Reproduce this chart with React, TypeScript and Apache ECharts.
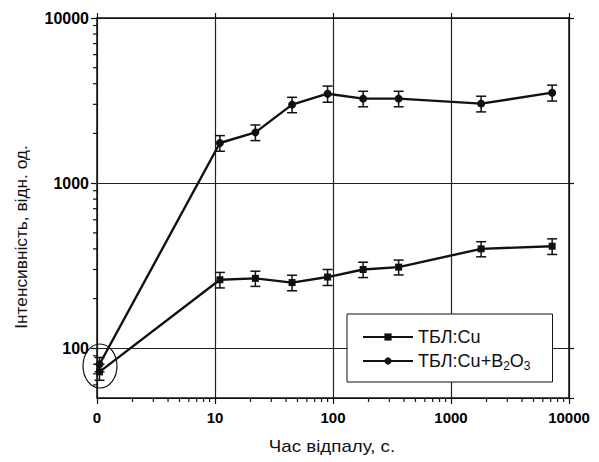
import React, { useEffect, useRef } from "react";
import * as echarts from "echarts";

// annealing time, s (0 = unannealed sample, drawn at the "0" position of the axis)
const times = [0, 11, 22, 45, 90, 180, 360, 1800, 7200];
const xTickLabels = ["0", "10", "100", "1000", "10000"];
const yTickLabels = ["100", "1000", "10000"];

const seriesCuName = "ТБЛ:Cu";
const seriesCuValues = [72, 260, 265, 250, 270, 300, 310, 400, 415];
const seriesCuErrors = [8, 28, 28, 27, 30, 32, 32, 42, 45];

const seriesB2O3Name = "ТБЛ:Cu+B2O3";
const seriesB2O3Values = [80, 1750, 2030, 2990, 3480, 3250, 3250, 3030, 3530];
const seriesB2O3Errors = [8, 190, 220, 320, 390, 350, 350, 330, 390];

const yMinorTicks = [60, 70, 80, 90, 200, 300, 400, 500, 600, 700, 800, 900, 2000, 3000, 4000, 5000, 6000, 7000, 8000, 9000];
const xMinorTicks = [2, 3, 4, 5, 6, 7, 8, 9, 20, 30, 40, 50, 60, 70, 80, 90, 200, 300, 400, 500, 600, 700, 800, 900, 2000, 3000, 4000, 5000, 6000, 7000, 8000, 9000];

const X_MIN = 1;
const X_MAX = 10000;
const Y_MIN = 50;
const Y_MAX = 10000;

const FONT = "'Liberation Sans', Arial, sans-serif";

const plotX = (t: number) => (t === 0 ? 1.05 : t);

export default function App() {
  const ref = useRef<HTMLDivElement>(null);

  useEffect(() => {
    if (!ref.current) return;
    const chart = echarts.init(ref.current, undefined, { renderer: "svg" });

    const cuData = times.map((t, i) => [plotX(t), seriesCuValues[i]]);
    const b2Data = times.map((t, i) => [plotX(t), seriesB2O3Values[i]]);
    const errData = [
      ...times.map((t, i) => [plotX(t), seriesCuValues[i] - seriesCuErrors[i], seriesCuValues[i] + seriesCuErrors[i]]),
      ...times.map((t, i) => [plotX(t), seriesB2O3Values[i] - seriesB2O3Errors[i], seriesB2O3Values[i] + seriesB2O3Errors[i]]),
    ];
    // minor tick marks: [x, y, direction] (0 = leftwards from y axis, 1 = downwards from x axis)
    const minorData = [
      ...yMinorTicks.map((v) => [X_MIN, v, 0]),
      ...xMinorTicks.map((v) => [v, Y_MIN, 1]),
    ];

    const xLabelFmt = (v: number) => {
      const idx = Math.round(Math.log10(v));
      return xTickLabels[idx] ?? "";
    };
    const yLabelFmt = (v: number) => {
      const idx = Math.round(Math.log10(v)) - 2;
      return yTickLabels[idx] ?? "";
    };

    const axisLine = { show: true, lineStyle: { color: "#111", width: 1.5 } };
    const gridLine = { show: true, lineStyle: { color: "#222", width: 1.2, type: "solid" as const } };

    chart.setOption({
      animation: false,
      backgroundColor: "#fff",
      grid: { left: 97, right: 30, top: 18, bottom: 64, containLabel: false },
      xAxis: [
        {
          type: "log",
          logBase: 10,
          min: X_MIN,
          max: X_MAX,
          position: "bottom",
          axisLine,
          axisTick: { show: true, inside: false, length: 6, lineStyle: { color: "#111", width: 1.2 } },
          axisLabel: {
            formatter: xLabelFmt,
            fontFamily: FONT,
            fontSize: 15,
            fontWeight: "bold",
            color: "#000",
            margin: 12,
          },
          splitLine: gridLine,
        },
        {
          type: "log",
          logBase: 10,
          min: X_MIN,
          max: X_MAX,
          position: "top",
          axisLine,
          axisTick: { show: true, inside: false, length: 5, lineStyle: { color: "#111", width: 1.2 } },
          axisLabel: { show: false },
          splitLine: { show: false },
        },
      ],
      yAxis: [
        {
          type: "log",
          logBase: 10,
          min: Y_MIN,
          max: Y_MAX,
          position: "left",
          axisLine,
          axisTick: { show: true, inside: false, length: 6, lineStyle: { color: "#111", width: 1.2 } },
          axisLabel: {
            formatter: yLabelFmt,
            showMinLabel: false,
            fontFamily: FONT,
            fontSize: 16,
            fontWeight: "bold",
            color: "#000",
            margin: 8,
          },
          splitLine: gridLine,
        },
        {
          type: "log",
          logBase: 10,
          min: Y_MIN,
          max: Y_MAX,
          position: "right",
          axisLine,
          axisTick: { show: true, inside: false, length: 5, lineStyle: { color: "#111", width: 1.2 } },
          axisLabel: { show: false },
          splitLine: { show: false },
        },
      ],
      legend: {
        data: [seriesCuName, seriesB2O3Name],
        orient: "vertical",
        left: 347,
        top: 314,
        padding: [14, 22, 10, 15],
        itemWidth: 50,
        itemHeight: 9,
        itemGap: 6,
        borderColor: "#111",
        borderWidth: 1,
        backgroundColor: "#fff",
        selectedMode: false,
        formatter: (name: string) =>
          name === seriesB2O3Name ? "ТБЛ:Cu+B{sub|2}O{sub|3}" : name,
        textStyle: {
          fontFamily: FONT,
          fontSize: 18,
          color: "#111",
          rich: {
            sub: { fontFamily: FONT, fontSize: 12, color: "#111", verticalAlign: "bottom", padding: [10, 0, 0, 0] },
          },
        },
      },
      graphic: [
        {
          type: "text",
          x: 22,
          y: 237,
          rotation: Math.PI / 2,
          scaleX: 1.08,
          style: {
            text: "Інтенсивність, відн. од.",
            font: `16px ${FONT}`,
            fill: "#111",
            align: "center",
            verticalAlign: "middle",
          },
        },
        {
          type: "text",
          x: 332,
          y: 446,
          scaleX: 1.17,
          style: {
            text: "Час відпалу, с.",
            font: `16px ${FONT}`,
            fill: "#111",
            align: "center",
            verticalAlign: "middle",
          },
        },
        {
          type: "ellipse",
          shape: { cx: 100, cy: 366, rx: 17, ry: 22 },
          style: { fill: "none", stroke: "#111", lineWidth: 1.2 },
          z: 100,
        },
      ],
      series: [
        {
          name: seriesCuName,
          type: "line",
          data: cuData,
          symbol: "rect",
          symbolSize: 7,
          itemStyle: { color: "#111" },
          lineStyle: { color: "#111", width: 2.4 },
          z: 5,
        },
        {
          name: seriesB2O3Name,
          type: "line",
          data: b2Data,
          symbol: "circle",
          symbolSize: 8,
          itemStyle: { color: "#111" },
          lineStyle: { color: "#111", width: 2.4 },
          z: 5,
        },
        {
          name: "errors",
          type: "custom",
          data: errData,
          encode: { x: 0, y: [1, 2] },
          clip: false,
          z: 6,
          renderItem: (_params: any, api: any) => {
            const x = api.value(0);
            const lo = api.coord([x, api.value(1)]);
            const hi = api.coord([x, api.value(2)]);
            const w = 5;
            const style = { stroke: "#111", lineWidth: 1.5 };
            return {
              type: "group",
              children: [
                { type: "line", shape: { x1: lo[0], y1: lo[1], x2: hi[0], y2: hi[1] }, style },
                { type: "line", shape: { x1: lo[0] - w, y1: lo[1], x2: lo[0] + w, y2: lo[1] }, style },
                { type: "line", shape: { x1: hi[0] - w, y1: hi[1], x2: hi[0] + w, y2: hi[1] }, style },
              ],
            };
          },
        },
        {
          name: "minorTicks",
          type: "custom",
          data: minorData,
          encode: { x: 0, y: 1 },
          clip: false,
          silent: true,
          z: 10,
          renderItem: (_params: any, api: any) => {
            const p = api.coord([api.value(0), api.value(1)]);
            const dir = api.value(2);
            const shape =
              dir === 0
                ? { x1: p[0] - 4, y1: p[1], x2: p[0], y2: p[1] }
                : { x1: p[0], y1: p[1], x2: p[0], y2: p[1] + 4 };
            return {
              type: "group",
              children: [{ type: "line", shape, style: { stroke: "#111", lineWidth: 1.2 } }],
            };
          },
        },
      ],
    });

    return () => chart.dispose();
  }, []);

  return <div ref={ref} style={{ width: 599, height: 462, position: "absolute", left: 0, top: 0 }} />;
}
